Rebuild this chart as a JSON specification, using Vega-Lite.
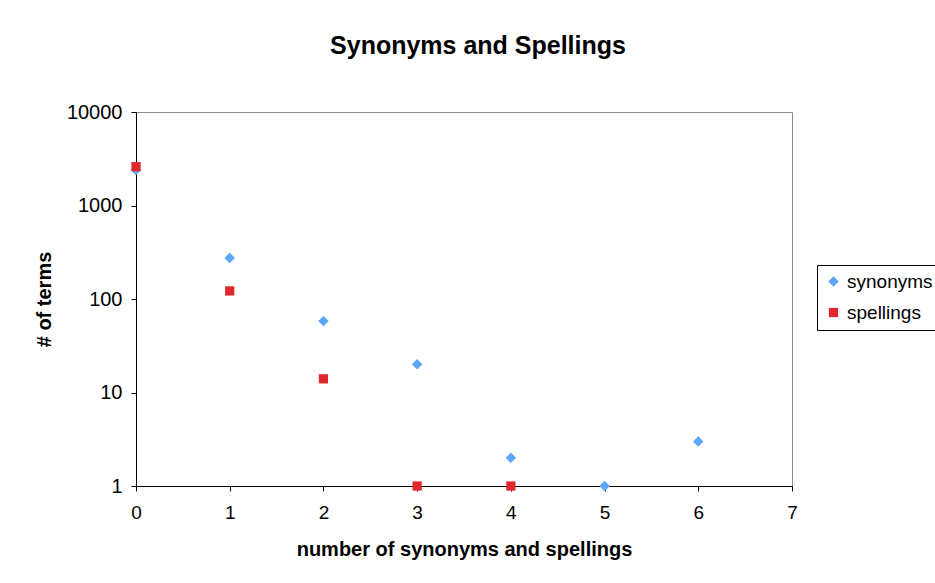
{
  "$schema": "https://vega.github.io/schema/vega-lite/v6.json",
  "autosize": "none",
  "width": 656,
  "height": 374,
  "padding": {"left": 136, "top": 112, "right": 143, "bottom": 97},
  "background": "white",
  "config": {
    "font": "Liberation Sans",
    "view": {"stroke": "#8c8c8c", "strokeWidth": 1}
  },
  "title": {
    "text": "Synonyms and Spellings",
    "font": "Liberation Sans",
    "fontSize": 25,
    "fontWeight": "bold",
    "color": "black",
    "anchor": "middle",
    "frame": "group",
    "dx": 14,
    "offset": 43
  },
  "data": {
    "values": [
      {"n": 0, "count": 2400, "type": "synonyms"},
      {"n": 1, "count": 275, "type": "synonyms"},
      {"n": 2, "count": 58, "type": "synonyms"},
      {"n": 3, "count": 20, "type": "synonyms"},
      {"n": 4, "count": 2, "type": "synonyms"},
      {"n": 5, "count": 1, "type": "synonyms"},
      {"n": 6, "count": 3, "type": "synonyms"},
      {"n": 0, "count": 2600, "type": "spellings"},
      {"n": 1, "count": 122, "type": "spellings"},
      {"n": 2, "count": 14, "type": "spellings"},
      {"n": 3, "count": 1, "type": "spellings"},
      {"n": 4, "count": 1, "type": "spellings"}
    ]
  },
  "mark": {"type": "point", "filled": true, "opacity": 1, "strokeWidth": 0},
  "encoding": {
    "x": {
      "field": "n",
      "type": "quantitative",
      "scale": {"domain": [0, 7], "nice": false, "zero": false},
      "axis": {
        "title": "number of synonyms and spellings",
        "values": [0, 1, 2, 3, 4, 5, 6, 7],
        "format": "d",
        "grid": false,
        "labelFlush": false,
        "domainColor": "black",
        "tickColor": "black",
        "tickSize": 5,
        "labelFontSize": 19,
        "labelColor": "black",
        "labelPadding": 12,
        "titleFontSize": 20,
        "titleFontWeight": "bold",
        "titleColor": "black",
        "titlePadding": 17
      }
    },
    "y": {
      "field": "count",
      "type": "quantitative",
      "scale": {"type": "log", "domain": [1, 10000], "nice": false},
      "axis": {
        "title": "# of terms",
        "values": [1, 10, 100, 1000, 10000],
        "format": "d",
        "grid": false,
        "labelFlush": false,
        "domainColor": "black",
        "tickColor": "black",
        "tickSize": 5,
        "labelFontSize": 20,
        "labelColor": "black",
        "labelPadding": 9,
        "titleFontSize": 20,
        "titleFontWeight": "bold",
        "titleColor": "black",
        "titlePadding": 12
      }
    },
    "color": {
      "field": "type",
      "type": "nominal",
      "scale": {"domain": ["synonyms", "spellings"], "range": ["#5ca6fc", "#e2262e"]},
      "legend": {
        "title": null,
        "orient": "none",
        "legendX": 681,
        "legendY": 153,
        "strokeColor": "black",
        "fillColor": "white",
        "padding": 7,
        "labelFontSize": 19,
        "labelColor": "black",
        "symbolSize": 70,
        "rowPadding": 11,
        "labelOffset": 4
      }
    },
    "shape": {
      "field": "type",
      "type": "nominal",
      "scale": {"domain": ["synonyms", "spellings"], "range": ["diamond", "square"]},
      "legend": {
        "title": null,
        "orient": "none",
        "legendX": 681,
        "legendY": 153
      }
    },
    "size": {
      "field": "type",
      "type": "nominal",
      "scale": {"domain": ["synonyms", "spellings"], "range": [110, 85]},
      "legend": null
    }
  }
}
